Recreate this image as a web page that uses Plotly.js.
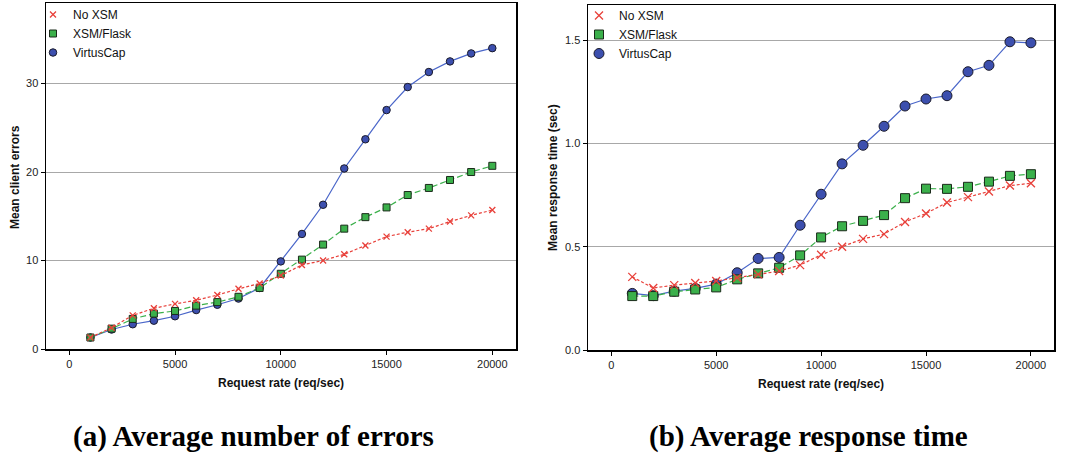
<!DOCTYPE html>
<html>
<head>
<meta charset="utf-8">
<script src="https://cdn.plot.ly/plotly-3.0.1.min.js"></script>
<style>html,body{margin:0;padding:0;background:#fff;}#chart{width:1070px;height:455px;}</style>
</head>
<body>
<div id="chart"></div>
<script>
// Request rates (req/sec)
const rates = [1000,2000,3000,4000,5000,6000,7000,8000,9000,10000,11000,12000,13000,14000,15000,16000,17000,18000,19000,20000];

// (a) Mean client errors
const errNoXSM     = [1.3,2.4,3.8,4.6,5.1,5.5,6.1,6.8,7.4,8.3,9.5,10.0,10.7,11.7,12.7,13.2,13.6,14.4,15.1,15.7];
const errXSMFlask  = [1.3,2.3,3.4,4.0,4.3,4.9,5.3,5.9,6.9,8.5,10.1,11.8,13.6,14.9,16.0,17.4,18.2,19.1,20.0,20.7];
const errVirtusCap = [1.3,2.2,2.8,3.2,3.7,4.4,5.0,5.7,6.9,9.9,13.0,16.3,20.4,23.7,27.0,29.6,31.3,32.5,33.4,34.0];

// (b) Mean response time (sec)
const rtNoXSM     = [0.354,0.300,0.314,0.324,0.334,0.350,0.366,0.382,0.411,0.461,0.500,0.538,0.561,0.620,0.661,0.714,0.740,0.767,0.796,0.807];
const rtXSMFlask  = [0.261,0.261,0.282,0.293,0.303,0.342,0.371,0.398,0.458,0.545,0.599,0.625,0.653,0.735,0.781,0.780,0.790,0.815,0.843,0.851];
const rtVirtusCap = [0.274,0.263,0.285,0.298,0.319,0.374,0.443,0.448,0.604,0.754,0.901,0.991,1.083,1.181,1.215,1.231,1.347,1.378,1.492,1.487];

const seriesNames = ['No XSM','XSM/Flask','VirtusCap'];
const captions = ['(a) Average number of errors','(b) Average response time'];
const xTitle = 'Request rate (req/sec)';
const yTitles = ['Mean client errors','Mean response time (sec)'];

const RED = '#e8403a', GREEN = '#3bb04b', BLUE = '#3c4fae', BLUEL = '#4a66c9';
const W = 1070, H = 455;

function makeTraces(ys, xa, ya, leg, csz, ssz) {
  const [yNo, yXf, yVc] = ys;
  const mVc = {symbol: 'circle', size: csz, color: BLUE, line: {color: '#1a1a2a', width: 1}};
  const mXf = {symbol: 'square', size: ssz, color: GREEN, line: {color: '#1a2a1a', width: 1}};
  const mNo = {symbol: 'x-thin', size: ssz - 1, color: RED, line: {color: RED, width: 1.3}};
  return [
    {x: rates, y: yVc, xaxis: xa, yaxis: ya, mode: 'lines+markers', showlegend: false,
      line: {color: BLUEL, width: 1.2}, marker: mVc},
    {x: rates, y: yXf, xaxis: xa, yaxis: ya, mode: 'lines+markers', showlegend: false,
      line: {color: GREEN, width: 1.2, dash: '6px,3px'}, marker: mXf},
    {x: rates, y: yNo, xaxis: xa, yaxis: ya, mode: 'lines+markers', showlegend: false,
      line: {color: RED, width: 1.2, dash: '3px,2px'}, marker: mNo},
    // legend entries
    {x: [null], y: [null], xaxis: xa, yaxis: ya, mode: 'markers', name: seriesNames[0], legend: leg, marker: mNo},
    {x: [null], y: [null], xaxis: xa, yaxis: ya, mode: 'markers', name: seriesNames[1], legend: leg, marker: mXf},
    {x: [null], y: [null], xaxis: xa, yaxis: ya, mode: 'markers', name: seriesNames[2], legend: leg, marker: mVc}
  ];
}

const data = [].concat(
  makeTraces([errNoXSM, errXSMFlask, errVirtusCap], 'x', 'y', 'legend', 7.5, 7),
  makeTraces([rtNoXSM, rtXSMFlask, rtVirtusCap], 'x2', 'y2', 'legend2', 10, 9)
);

const font = {family: 'Liberation Sans, Arial, Helvetica, sans-serif', color: '#222', size: 11};
const xbase = {range: [-1100, 21120], tickvals: [0,5000,10000,15000,20000], ticktext: ['0','5000','10000','15000','20000'],
  showgrid: false, zeroline: false, showline: true, linecolor: '#000', linewidth: 1.5, mirror: true,
  ticks: 'outside', ticklen: 4, tickcolor: '#000', tickfont: {size: 11, color: '#222'}};
const ybase = {showgrid: true, gridcolor: '#a8a8a8', gridwidth: 1, zeroline: false, showline: true, linecolor: '#000',
  linewidth: 1.5, mirror: true, ticks: 'outside', ticklen: 4, tickcolor: '#000', tickfont: {size: 11, color: '#222'}};

function px(v){return v / W;}
function py(v){return 1 - v / H;}

function ann(text, x, y, size, extra) {
  return Object.assign({text: text, xref: 'paper', yref: 'paper', x: px(x), y: py(y), xanchor: 'center', yanchor: 'middle',
    showarrow: false, font: {size: size, color: '#111'}}, extra || {});
}
const serif = 'Liberation Serif, Times New Roman, serif';

const layout = {
  width: W, height: H, margin: {l: 0, r: 0, t: 0, b: 0, autoexpand: false},
  paper_bgcolor: '#fff', plot_bgcolor: '#fff', font: font,
  xaxis: Object.assign({}, xbase, {domain: [px(46), px(516)], anchor: 'y'}),
  yaxis: Object.assign({}, ybase, {domain: [py(349), py(3)], anchor: 'x', range: [0, 39.1], tickvals: [0,10,20,30]}),
  xaxis2: Object.assign({}, xbase, {domain: [px(588), px(1054)], anchor: 'y2', range: [-1110, 21100]}),
  yaxis2: Object.assign({}, ybase, {domain: [py(350), py(5)], anchor: 'x2', range: [0, 1.67], tickvals: [0,0.5,1.0,1.5], ticktext: ['0.0','0.5','1.0','1.5']}),
  legend: {x: px(33), y: 1, xanchor: 'left', yanchor: 'top', bgcolor: 'rgba(0,0,0,0)', font: {size: 12, color: '#111'},
    tracegroupgap: 0, itemwidth: 30},
  legend2: {x: px(579), y: py(1), xanchor: 'left', yanchor: 'top', bgcolor: 'rgba(0,0,0,0)', font: {size: 12, color: '#111'},
    tracegroupgap: 0, itemwidth: 30},
  annotations: [
    ann('<b>' + xTitle + '</b>', 281, 383, 12),
    ann('<b>' + xTitle + '</b>', 821, 384, 12),
    ann('<b>' + yTitles[0] + '</b>', 15, 177, 12, {textangle: -90}),
    ann('<b>' + yTitles[1] + '</b>', 553, 178, 12, {textangle: -90}),
    ann('<b>' + captions[0] + '</b>', 253, 436, 29, {font: {family: serif, size: 29, color: '#000'}}),
    ann('<b>' + captions[1] + '</b>', 808, 436, 29, {font: {family: serif, size: 29, color: '#000'}})
  ]
};

Plotly.newPlot('chart', data, layout, {displayModeBar: false, staticPlot: true});
</script>
</body>
</html>
